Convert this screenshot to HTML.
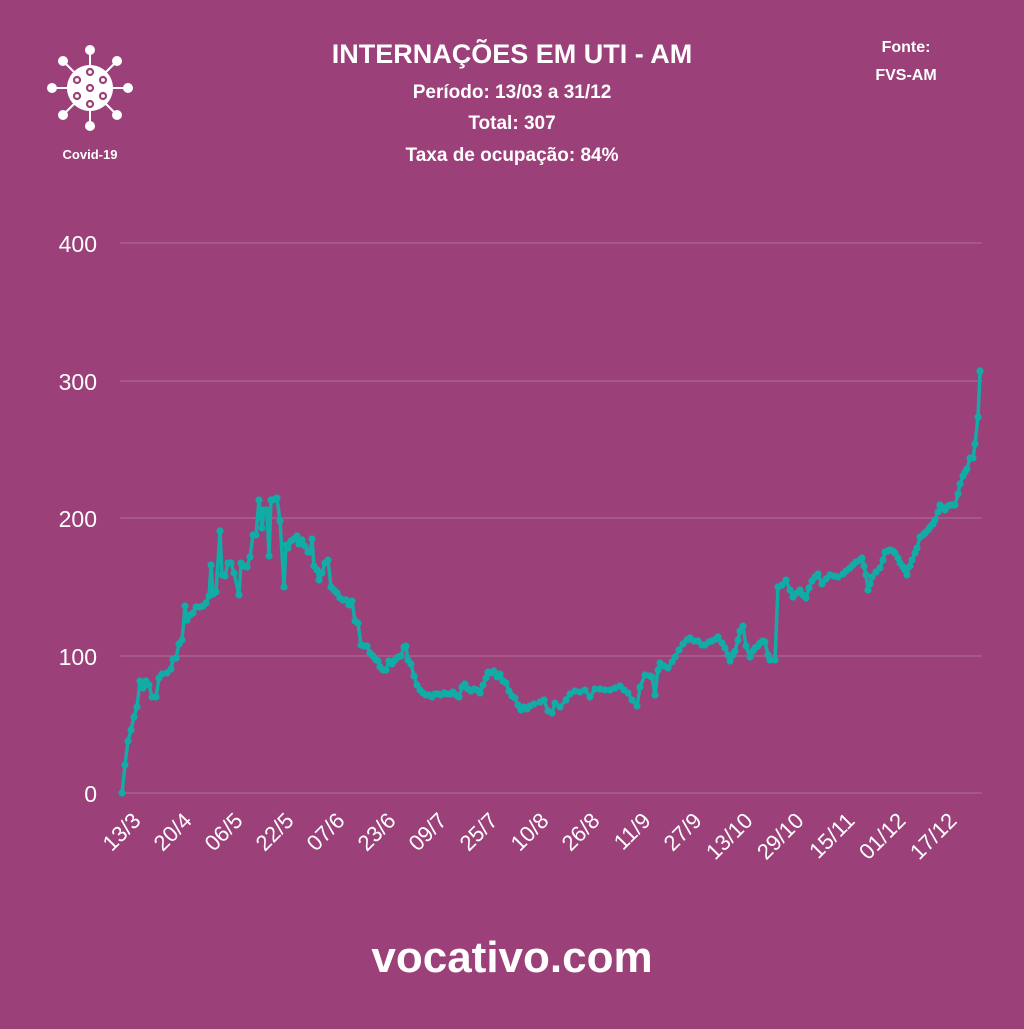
<!DOCTYPE html>
<html><head><meta charset="utf-8"><style>
html,body{margin:0;padding:0;background:#9b4079;}
body{width:1024px;height:1024px;overflow:hidden;font-family:"Liberation Sans",sans-serif;}
</style></head><body>
<svg width="1024" height="1024" xmlns="http://www.w3.org/2000/svg" font-family="Liberation Sans, sans-serif">
<rect width="1024" height="1024" fill="#9b4079"/>
<g fill="#fff" font-weight="bold" text-anchor="middle">
<text x="512" y="63" font-size="27">INTERNAÇÕES EM UTI - AM</text>
<text x="512" y="98" font-size="19">Período: 13/03 a 31/12</text>
<text x="512" y="129" font-size="19">Total: 307</text>
<text x="512" y="161" font-size="19">Taxa de ocupação: 84%</text>
<text x="906" y="52" font-size="16">Fonte:</text>
<text x="906" y="80" font-size="16">FVS-AM</text>
<text x="90" y="159" font-size="13">Covid-19</text>
<text x="512" y="972" font-size="44">vocativo.com</text>
</g>
<g stroke="#fff" stroke-width="2" fill="#fff">
<line x1="90" y1="50" x2="90" y2="126"/><line x1="52" y1="88" x2="128" y2="88"/>
<line x1="63" y1="61" x2="117" y2="115"/><line x1="117" y1="61" x2="63" y2="115"/>
<circle cx="90" cy="50" r="4"/><circle cx="90" cy="126" r="4"/><circle cx="52" cy="88" r="4"/><circle cx="128" cy="88" r="4"/>
<circle cx="63" cy="61" r="4"/><circle cx="117" cy="61" r="4"/><circle cx="63" cy="115" r="4"/><circle cx="117" cy="115" r="4"/>
<circle cx="90" cy="88" r="23" stroke="none"/>
</g>
<g fill="#fff" stroke="#9b4079" stroke-width="2.2">
<circle cx="90" cy="72" r="3"/><circle cx="90" cy="104" r="3"/><circle cx="90" cy="88" r="3"/>
<circle cx="77" cy="80" r="3"/><circle cx="103" cy="80" r="3"/><circle cx="77" cy="96" r="3"/><circle cx="103" cy="96" r="3"/>
</g>
<g stroke="#fff" stroke-opacity="0.2" stroke-width="1.2">
<line x1="120" y1="243" x2="982" y2="243"/><line x1="120" y1="381" x2="982" y2="381"/>
<line x1="120" y1="518" x2="982" y2="518"/><line x1="120" y1="656" x2="982" y2="656"/>
<line x1="120" y1="793" x2="982" y2="793"/>
</g>
<g fill="#fff" font-size="23" text-anchor="end">
<text x="97" y="252">400</text><text x="97" y="390">300</text><text x="97" y="527">200</text><text x="97" y="665">100</text><text x="97" y="802">0</text>
</g>
<g fill="#fff" font-size="22" text-anchor="end" id="xl"></g>
<polyline id="ln" fill="none" stroke="#12aca6" stroke-width="3.5" stroke-linejoin="round"/>
<g id="dots" fill="#12aca6"></g>
</svg>
<script>
var P=[122,793,125,765,128,741,131,730,134,717,137,707,140,681,143,688,146,681,149,685,152,697,156,697,159,678,162,674,167,673,171,669,173,659,176,658,179,644,182,640,185,606,187,620,190,615,193,613,196,607,200,607,203,606,206,603,209,596,211,565,213,594,216,592,220,531,222,575,225,576,228,563,231,563,234,573,239,595,241,563,244,566,247,567,250,557,253,535,256,535,259,500,262,528,264,510,267,510,269,556,271,500,273,500,275,499,277,498,280,521,284,587,286,545,288,548,291,541,294,539,297,536,299,544,302,540,305,546,308,552,310,552,312,539,314,566,317,570,319,580,322,573,325,563,328,560,331,587,334,590,337,593,340,598,343,600,346,600,349,605,352,601,355,621,358,623,361,645,364,646,367,646,370,653,373,656,376,660,378,661,380,667,383,670,386,670,389,661,392,664,395,660,398,657,401,656,404,647,406,646,408,660,411,664,414,676,417,685,420,690,423,693,426,695,429,695,432,697,435,694,438,694,441,695,444,693,447,694,450,694,453,692,456,695,459,697,462,687,465,684,468,689,471,691,474,689,477,690,480,693,483,685,486,678,488,672,491,673,494,671,497,677,500,674,503,681,506,683,509,691,512,696,515,698,518,705,521,710,524,707,527,709,530,706,534,704,540,702,544,700,548,711,552,713,555,703,560,707,566,700,570,694,575,691,580,692,585,690,590,697,595,689,600,689,605,690,610,690,615,688,620,686,624,690,628,693,632,700,637,706,640,687,645,675,650,676,652,677,655,695,658,670,660,663,664,666,668,668,672,662,675,657,679,650,683,644,687,640,690,638,694,641,698,641,702,645,705,645,709,642,712,641,716,639,718,637,722,643,725,648,728,655,730,661,733,655,735,651,738,640,740,631,743,626,746,646,750,657,753,651,755,648,758,646,760,643,763,641,765,642,768,655,770,660,775,660,778,587,782,585,786,580,790,590,793,597,797,593,800,590,803,595,806,598,809,588,812,581,815,577,818,574,822,584,826,579,830,575,834,576,838,577,843,574,846,571,850,568,853,565,856,562,860,560,862,558,864,566,866,575,868,590,870,584,872,577,876,572,880,568,883,560,885,552,888,551,890,550,893,551,895,553,898,558,900,563,903,567,905,570,907,575,910,566,912,560,915,553,917,548,920,537,923,535,925,533,928,530,930,527,933,524,935,520,938,512,940,505,943,508,945,510,948,506,950,505,953,505,955,505,958,494,960,484,963,476,965,472,967,469,970,458,973,458,975,444,978,417,980,371];
var pts=[],d='';
for(var i=0;i<P.length;i+=2){pts.push(P[i]+','+P[i+1]);d+='<circle cx="'+P[i]+'" cy="'+P[i+1]+'" r="3.6"/>';}
document.getElementById('ln').setAttribute('points',pts.join(' '));
document.getElementById('dots').innerHTML=d;
var L=['13/3','20/4','06/5','22/5','07/6','23/6','09/7','25/7','10/8','26/8','11/9','27/9','13/10','29/10','15/11','01/12','17/12'],s='';
for(var k=0;k<L.length;k++){var x=142+51*k,y=822;s+='<text x="'+x+'" y="'+y+'" transform="rotate(-45 '+x+' '+y+')">'+L[k]+'</text>';}
document.getElementById('xl').innerHTML=s;
</script>
</body></html>
